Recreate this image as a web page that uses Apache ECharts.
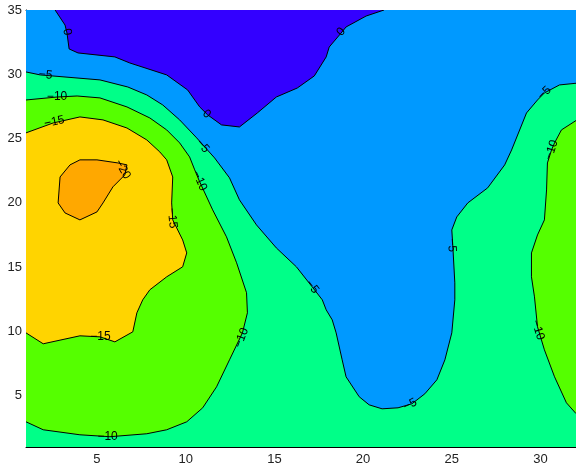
<!DOCTYPE html>
<html>
<head>
<meta charset="utf-8">
<script src="https://cdn.jsdelivr.net/npm/echarts@6/dist/echarts.min.js"></script>
<style>html,body{margin:0;padding:0;background:#fff}#c{width:576px;height:466px}</style>
</head>
<body>
<div id="c"></div>
<script>
// Axis ranges and ticks
const xRange = [1, 32];
const yRange = [1, 35];
const xTicks = [5, 10, 15, 20, 25, 30];
const yTicks = [5, 10, 15, 20, 25, 30, 35];

// Contour levels
const levels = [0, -5, -10, -15, -20];

// Contour lines in data coordinates
const contour0 = [[2.64,35],[3.20,33.83],[3.31,33.21],[3.43,31.97],[3.93,31.66],[6.01,31.35],[6.85,30.88],[8.93,29.95],[10.11,28.78],[10.79,27.46],[11.24,26.84],[12.02,26.06],[13.03,25.90],[14.04,26.99],[15.11,28.23],[16.29,28.93],[17.25,29.87],[17.92,31.35],[18.09,32.12],[18.76,33.21],[19.04,33.68],[20.17,34.53],[21.18,35]];
const contourM5 = [[1,30.18],[1.80,29.95],[5.17,29.56],[6.74,29.01],[7.81,28.39],[8.71,27.61],[9.66,26.45],[10.62,25.05],[11.07,24.35],[11.63,23.49],[12.47,21.94],[13.03,20.23],[13.99,18.28],[15.11,16.49],[16.24,15.02],[17.13,13.46],[17.70,12.45],[17.92,11.67],[18.26,10.89],[18.48,9.88],[18.82,7.78],[19.04,6.46],[19.78,4.91],[20.34,4.28],[21.07,3.97],[21.97,4.05],[22.75,4.36],[23.48,5.14],[24.16,6.23],[24.61,7.78],[25.00,9.88],[25.17,12.45],[25.17,13.77],[25.06,16.57],[25.00,17.89],[25.28,18.90],[25.90,19.99],[27.02,21.16],[27.98,22.95],[28.37,24.11],[29.21,26.99],[29.83,28.00],[30.22,28.55],[31.07,29.17],[32,29.3]];
const contourM10Left = [[1,28.00],[2.75,28.23],[3.88,28.31],[5.17,28.16],[6.69,27.46],[7.98,26.60],[8.93,25.67],[9.66,24.66],[10.22,23.57],[10.51,22.56],[10.79,21.63],[11.52,19.45],[12.30,17.35],[12.87,15.33],[13.43,13.00],[13.48,11.44],[13.20,9.88],[12.47,7.78],[11.74,5.68],[10.96,4.05],[10.06,2.96],[8.93,2.34],[7.81,2.03],[5.73,1.80],[4.04,1.95],[1.97,2.34],[1,2.96]];
const contourM10Right = [[32,26.4],[31.18,25.67],[30.79,24.66],[30.62,24.11],[30.39,23.10],[30.34,21.00],[30.22,18.67],[29.83,17.50],[29.49,16.10],[29.49,14.24],[29.66,12.68],[29.83,10.35],[30.22,8.56],[30.79,6.46],[31.46,4.44],[32,3.6]];
const contourM15 = [[1,25.44],[2.53,26.21],[4.04,26.68],[5.34,26.45],[6.69,25.82],[7.81,24.89],[8.54,23.96],[8.93,23.34],[9.27,22.01],[9.21,19.99],[9.27,18.67],[9.83,17.11],[10.06,16.10],[9.83,15.02],[8.93,14.24],[7.98,13.23],[7.58,12.45],[7.25,11.44],[7.02,9.96],[6.01,9.18],[5.17,9.57],[4.04,9.65],[1.97,9.03],[1,9.88]];
const contourM20 = [[3.48,22.95],[4.04,23.34],[5.00,23.34],[6.18,23.10],[6.69,22.95],[6.57,22.17],[5.90,21.24],[5.34,19.99],[5.00,19.29],[4.04,18.67],[3.20,19.21],[2.81,19.99],[2.92,22.01],[3.48,22.95]];

// Contour labels: [x, y, level]
const labelPoints = [[3.31,33.3,0],[11.18,26.9,0],[18.76,33.3,0],[2.1,29.95,-5],[10.96,24.4,-5],[17.13,13.46,-5],[22.65,4.3,-5],[25.0,16.7,-5],[30.22,28.55,-5],[2.75,28.23,-10],[10.79,21.7,-10],[13.15,9.5,-10],[5.6,1.8,-10],[30.62,24.11,-10],[29.85,10.1,-10],[2.6,26.3,-15],[9.24,18.8,-15],[5.2,9.6,-15],[6.45,22.6,-20]];
const labelAngles = [-80,-40,50,-5,-48,-52,27,-88,45,0,-66,69,0,72,-73,12,-85,0,-60];

const colors = {
  above0: '#3300FF', m5to0: '#0099FF', m10toM5: '#00FF88',
  m15toM10: '#55FF00', m20toM15: '#FFD400', belowM20: '#FFA800'
};

const corner = (x, y) => [x, y];
const regions = [
  {pts: [corner(xRange[0], yRange[0]), corner(xRange[1], yRange[0]), corner(xRange[1], yRange[1]), corner(xRange[0], yRange[1])], fill: colors.m10toM5},
  {pts: contourM5.concat([corner(xRange[1], yRange[1]), corner(xRange[0], yRange[1])]), fill: colors.m5to0},
  {pts: contour0, fill: colors.above0},
  {pts: contourM10Left, fill: colors.m15toM10},
  {pts: contourM10Right, fill: colors.m15toM10},
  {pts: contourM15, fill: colors.m20toM15},
  {pts: contourM20, fill: colors.belowM20}
];
const lines = [contour0, contourM5, contourM10Left, contourM10Right, contourM15, contourM20];

const fmt = v => (v < 0 ? '\u2212' + Math.abs(v) : String(v));

const chart = echarts.init(document.getElementById('c'));
const FONT = 'Liberation Sans, Arial, sans-serif';
chart.setOption({
  animation: false,
  backgroundColor: '#ffffff',
  grid: {left: 26, top: 10, width: 551.8, height: 437, show: false},
  xAxis: [{
    type: 'value', min: xRange[0], max: xRange[1], position: 'bottom',
    axisLine: {show: true, onZero: false, lineStyle: {color: '#000', width: 1}},
    axisTick: {show: false},
    splitLine: {show: false},
    axisLabel: {customValues: xTicks, color: '#222', fontSize: 13, fontFamily: FONT, margin: 6}
  }, {
    type: 'value', min: xRange[0], max: xRange[1], position: 'top',
    axisLine: {show: true, onZero: false, lineStyle: {color: '#222', width: 1}},
    axisTick: {show: false}, splitLine: {show: false}, axisLabel: {show: false}
  }],
  yAxis: [{
    type: 'value', min: yRange[0], max: yRange[1],
    axisLine: {show: true, onZero: false, lineStyle: {color: '#000', width: 1}},
    axisTick: {show: false},
    splitLine: {show: false},
    axisLabel: {customValues: yTicks, color: '#222', fontSize: 13, fontFamily: FONT, margin: 4}
  }],
  series: [{
    type: 'custom',
    coordinateSystem: 'cartesian2d',
    xAxisIndex: 0, yAxisIndex: 0,
    z: 1,
    clip: true,
    data: [[xRange[0], yRange[0]]],
    renderItem: function (params, api) {
      const children = [];
      regions.forEach(r => {
        children.push({type: 'polygon', shape: {points: r.pts.map(p => api.coord(p))}, style: {fill: r.fill, stroke: null}});
      });
      lines.forEach(l => {
        children.push({type: 'polyline', shape: {points: l.map(p => api.coord(p))}, style: {stroke: '#000', lineWidth: 1, fill: null}});
      });
      labelPoints.forEach((lp, i) => {
        const c = api.coord([lp[0], lp[1]]);
        children.push({type: 'text', x: c[0], y: c[1], rotation: labelAngles[i] * Math.PI / 180,
          style: {text: fmt(lp[2]), fill: '#000', font: '12px ' + FONT, align: 'center', verticalAlign: 'middle'}});
      });
      return {type: 'group', children: children};
    }
  }]
});
</script>
</body>
</html>
